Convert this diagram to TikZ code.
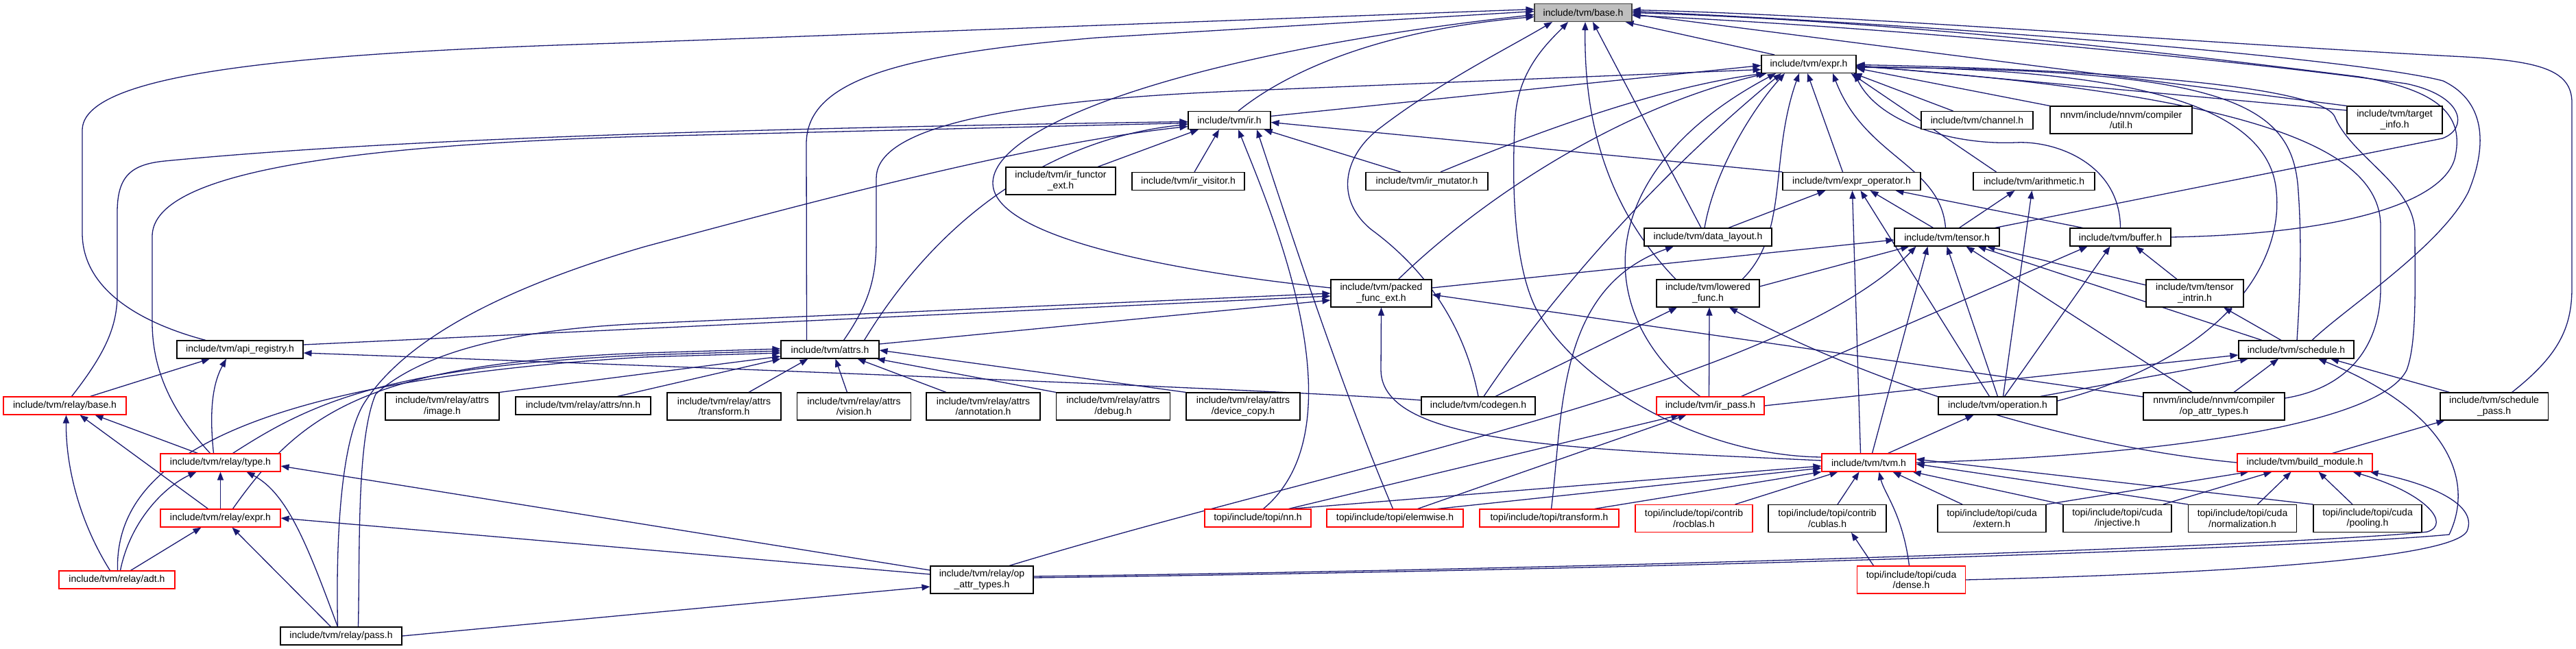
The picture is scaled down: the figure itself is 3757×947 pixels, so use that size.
\documentclass[tikz,border=0pt]{standalone}
\usepackage{fontspec}
\setmainfont{Liberation Sans}
\usetikzlibrary{arrows.meta,backgrounds}
\definecolor{edgeblue}{HTML}{191970}
\definecolor{rootfill}{HTML}{BFBFBF}
\definecolor{rootline}{HTML}{404040}
\definecolor{truncred}{HTML}{FF0000}
\tikzset{
  every node/.style={font=\fontsize{14}{15.5}\selectfont, text=black},
  hdr/.style={rectangle, draw=black, fill=white, line width=1.1pt,
    align=center, inner sep=1pt, minimum height=26pt},
  twoline/.style={minimum height=40pt},
  roothdr/.style={hdr, fill=rootfill, draw=rootline},
  cuthdr/.style={hdr, draw=truncred},
  inc/.style={draw=edgeblue, line width=1.3pt,
    -{Triangle[length=12pt,width=9pt]}},
}

\begin{document}
\begin{tikzpicture}[x=1pt,y=-1pt]
\useasboundingbox (0,0) rectangle (3757,947);

% ---- core headers ---------------------------------------------------------
\node[roothdr, minimum width=142pt] (base) at (2309,18.5) {include/tvm/base.h};
\node[hdr, minimum width=138pt] (expr) at (2638,93.5) {include/tvm/expr.h};

\node[hdr, minimum width=120pt] (ir) at (1793,175.5) {include/tvm/ir.h};
\node[hdr, minimum width=163pt] (channel) at (2883.5,175.5) {include/tvm/channel.h};
\node[hdr, twoline, minimum width=207pt] (nnutil) at (3093.5,175)
  {nnvm/include/nnvm/compiler\\/util.h};
\node[hdr, twoline, minimum width=139pt] (tinfo) at (3492.5,175)
  {include/tvm/target\\\_info.h};

\node[hdr, twoline, minimum width=160pt] (irfunctor) at (1547,264)
  {include/tvm/ir\_functor\\\_ext.h};
\node[hdr, minimum width=164pt] (irvisitor) at (1733,264.5) {include/tvm/ir\_visitor.h};
\node[hdr, minimum width=178pt] (irmutator) at (2081,264.5) {include/tvm/ir\_mutator.h};
\node[hdr, minimum width=201pt] (exprop) at (2700.5,264.5) {include/tvm/expr\_operator.h};
\node[hdr, minimum width=177pt] (arith) at (2966.5,264.5) {include/tvm/arithmetic.h};

\node[hdr, minimum width=186pt] (datalayout) at (2491,346) {include/tvm/data\_layout.h};
\node[hdr, minimum width=153pt] (tensor) at (2839.5,346) {include/tvm/tensor.h};
\node[hdr, minimum width=147pt] (buffer) at (3092.5,346) {include/tvm/buffer.h};

\node[hdr, twoline, minimum width=147pt] (packed) at (2014.5,428)
  {include/tvm/packed\\\_func\_ext.h};
\node[hdr, twoline, minimum width=150pt] (lowered) at (2491,428)
  {include/tvm/lowered\\\_func.h};
\node[hdr, twoline, minimum width=142pt] (tintrin) at (3201,428)
  {include/tvm/tensor\\\_intrin.h};

\node[hdr, minimum width=184pt] (apireg) at (350,510) {include/tvm/api\_registry.h};
\node[hdr, minimum width=143pt] (attrs) at (1210.5,510) {include/tvm/attrs.h};
\node[hdr, minimum width=168pt] (schedule) at (3349,510) {include/tvm/schedule.h};

% ---- relay attrs row ------------------------------------------------------
\def\aw{166pt}
\node[cuthdr, minimum width=179pt] (rbase) at (94.5,592) {include/tvm/relay/base.h};
\node[hdr, twoline, minimum width=\aw] (rimage) at (645,593)
  {include/tvm/relay/attrs\\/image.h};
\node[hdr, minimum width=197pt] (rnn) at (850.5,592) {include/tvm/relay/attrs/nn.h};
\node[hdr, twoline, minimum width=\aw] (rtransform) at (1056,593)
  {include/tvm/relay/attrs\\/transform.h};
\node[hdr, twoline, minimum width=\aw] (rvision) at (1245.5,593)
  {include/tvm/relay/attrs\\/vision.h};
\node[hdr, twoline, minimum width=\aw] (rannot) at (1434,593)
  {include/tvm/relay/attrs\\/annotation.h};
\node[hdr, twoline, minimum width=\aw] (rdebug) at (1623.5,593)
  {include/tvm/relay/attrs\\/debug.h};
\node[hdr, twoline, minimum width=\aw] (rdevcopy) at (1813,593)
  {include/tvm/relay/attrs\\/device\_copy.h};
\node[hdr, minimum width=166pt] (codegen) at (2156,592) {include/tvm/codegen.h};
\node[cuthdr, minimum width=157pt] (irpass) at (2494.5,592) {include/tvm/ir\_pass.h};
\node[hdr, minimum width=173pt] (operation) at (2913.5,592) {include/tvm/operation.h};
\node[hdr, twoline, minimum width=206pt] (nnopattr) at (3229,593)
  {nnvm/include/nnvm/compiler\\/op\_attr\_types.h};
\node[hdr, twoline, minimum width=157pt] (schedpass) at (3637.5,593)
  {include/tvm/schedule\\\_pass.h};

% ---- lower rows -----------------------------------------------------------
\node[cuthdr, minimum width=175pt] (rtype) at (321.5,675) {include/tvm/relay/type.h};
\node[cuthdr, minimum width=137pt] (tvm) at (2725.5,675) {include/tvm/tvm.h};
\node[cuthdr, minimum width=197pt] (buildmod) at (3361.5,675) {include/tvm/build\_module.h};

\def\cw{158pt}
\node[cuthdr, minimum width=175pt] (rexpr) at (321.5,756) {include/tvm/relay/expr.h};
\node[cuthdr, minimum width=155pt] (topinn) at (1834.5,756) {topi/include/topi/nn.h};
\node[cuthdr, minimum width=199pt] (topielem) at (2034.5,756) {topi/include/topi/elemwise.h};
\node[cuthdr, minimum width=203pt] (topitrans) at (2259.5,756) {topi/include/topi/transform.h};
\node[cuthdr, twoline, minimum width=171pt] (rocblas) at (2470.5,756.5)
  {topi/include/topi/contrib\\/rocblas.h};
\node[hdr, twoline, minimum width=172pt] (cublas) at (2665,756.5)
  {topi/include/topi/contrib\\/cublas.h};
\node[hdr, twoline, minimum width=\cw] (cextern) at (2905,756.5)
  {topi/include/topi/cuda\\/extern.h};
\node[hdr, twoline, minimum width=\cw] (cinj) at (3088,756.5)
  {topi/include/topi/cuda\\/injective.h};
\node[hdr, twoline, minimum width=\cw] (cnorm) at (3270.5,756.5)
  {topi/include/topi/cuda\\/normalization.h};
\node[hdr, twoline, minimum width=\cw] (cpool) at (3453,756.5)
  {topi/include/topi/cuda\\/pooling.h};

\node[cuthdr, minimum width=169pt] (radt) at (170.5,846) {include/tvm/relay/adt.h};
\node[hdr, twoline, minimum width=150pt] (ropattr) at (1432,846)
  {include/tvm/relay/op\\\_attr\_types.h};
\node[cuthdr, twoline, minimum width=\cw] (cdense) at (2787.5,846)
  {topi/include/topi/cuda\\/dense.h};

\node[hdr, minimum width=177pt] (rpass) at (497.5,928) {include/tvm/relay/pass.h};

\begin{scope}[on background layer]
% ---- into base.h ----------------------------------------------------------
\draw[inc] ([xshift=-50pt]expr.north) -- ([xshift=-10pt]base.south east);
\draw[inc] ([xshift=13pt]ir.north) .. controls (1870,110) and (2000,45) .. ([yshift=-6pt]base.west);
\draw[inc] ([xshift=-50pt]apireg.north) .. controls (200,470) and (120,420) .. (120,340)
  -- (120,190) .. controls (120,110) and (400,78) .. (900,63) -- ([yshift=5pt]base.west);
\draw[inc] ([xshift=-34pt]attrs.north) -- (1176,210) .. controls (1176,120) and (1300,80) .. (1600,55)
  -- ([yshift=2pt]base.west);
\draw[inc] ([yshift=8pt]packed.west) .. controls (1700,395) and (1450,345) .. (1448,268)
  .. controls (1446,180) and (1750,75) .. ([yshift=-3pt]base.west);
\draw[inc] (codegen.north) .. controls (2135,470) and (2075,390) .. (2000,335)
  .. controls (1945,290) and (1960,225) .. (2015,185)
  .. controls (2100,120) and (2200,70) .. ([xshift=-45pt]base.south);
\draw[inc] ([yshift=8pt]tvm.west) .. controls (2480,665) and (2300,560) .. (2240,450)
  .. controls (2205,380) and (2205,250) .. (2210,170)
  .. controls (2215,100) and (2260,60) .. ([xshift=-22pt]base.south);
\draw[inc] ([xshift=-47pt]lowered.north) .. controls (2340,300) and (2310,170) .. ([xshift=3pt]base.south);
\draw[inc] ([xshift=-10pt]datalayout.north) -- ([xshift=14pt]base.south);
\draw[inc] (tinfo.north west) -- ([yshift=-2pt]base.east);
\draw[inc] ([xshift=26pt]schedpass.north) .. controls (3730,520) and (3751,480) .. (3751,420)
  -- (3751,150) .. controls (3751,100) and (3700,88) .. (3576,82)
  .. controls (3200,62) and (2700,22) .. ([yshift=4pt]base.east);
\draw[inc] ([xshift=23pt]schedule.north) .. controls (3420,450) and (3560,360) .. (3600,280)
  .. controls (3625,220) and (3630,150) .. (3563,118)
  .. controls (3450,88) and (2900,40) .. ([yshift=2pt]base.east);
\draw[inc] (buffer.east) .. controls (3400,342) and (3560,300) .. (3580,232)
  .. controls (3595,170) and (3560,132) .. (3441,112)
  .. controls (3200,82) and (2800,32) .. (base.east);
\draw[inc] ([xshift=70pt]tensor.north) -- (3562,202) .. controls (3600,188) and (3595,140) .. (3509,122)
  .. controls (3300,92) and (2800,42) .. ([yshift=-4pt]base.east);

% ---- into expr.h ----------------------------------------------------------
\draw[inc] ([yshift=6pt]ir.east) -- ([yshift=-2pt]expr.west);
\draw[inc] ([xshift=-35pt]channel.north) -- ([xshift=-4pt]expr.south east);
\draw[inc] (nnutil.north west) -- ([yshift=-6pt]expr.east);
\draw[inc] ([yshift=14pt]tinfo.west) -- ([yshift=-2pt]expr.east);
\draw[inc] ([xshift=20pt]irmutator.north) .. controls (2200,210) and (2400,130) .. ([xshift=5pt]expr.south west);
\draw[inc] ([xshift=-13pt]exprop.north) -- ([xshift=-2pt]expr.south);
\draw[inc] ([xshift=-55pt]arith.north) -- ([xshift=-8pt]expr.south east);
\draw[inc] ([xshift=-5pt]datalayout.north) .. controls (2500,250) and (2555,160) .. ([xshift=-35pt]expr.south);
\draw[inc] ([xshift=-2pt]tensor.north) .. controls (2830,240) and (2720,230) .. ([xshift=35pt]expr.south);
\draw[inc] (buffer.north) .. controls (3092,240) and (3000,205) .. (2940,208)
  .. controls (2850,212) and (2740,180) .. ([xshift=-3pt]expr.south east);
\draw[inc] ([xshift=25pt]packed.north) .. controls (2150,300) and (2350,160) .. ([xshift=8pt]expr.south west);
\draw[inc] ([xshift=50pt]lowered.north) .. controls (2610,340) and (2580,230) .. ([xshift=-14pt]expr.south);
\draw[inc] ([xshift=20pt]attrs.north) .. controls (1270,440) and (1278,400) .. (1278,350)
  -- (1278,260) .. controls (1278,200) and (1400,150) .. (1800,133) -- ([yshift=-8pt]expr.west);
\draw[inc] ([xshift=8pt]codegen.north) .. controls (2250,450) and (2400,270) .. ([xshift=-40pt]expr.south);
\draw[inc] ([xshift=-15pt]irpass.north) .. controls (2320,460) and (2320,250) .. ([xshift=-48pt]expr.south);
\draw[inc] ([yshift=7pt]operation.east) .. controls (3250,520) and (3330,380) .. (3320,280)
  .. controls (3310,150) and (3100,100) .. ([yshift=-4pt]expr.east);
\draw[inc] ([xshift=1pt]schedule.north) .. controls (3355,420) and (3357,350) .. (3352,280)
  .. controls (3345,150) and (3250,100) .. ([yshift=-5pt]expr.east);
\draw[inc] ([yshift=12pt]nnopattr.east) .. controls (3430,565) and (3472,500) .. (3472,420)
  -- (3472,330) .. controls (3472,220) and (3300,140) .. ([yshift=-3pt]expr.east);
\draw[inc] (tvm.east) .. controls (3150,665) and (3470,620) .. (3510,540)
  .. controls (3525,500) and (3522,420) .. (3522,340)
  .. controls (3522,270) and (3430,230) .. (3405,170)
  .. controls (3380,120) and (3000,100) .. ([yshift=-1pt]expr.east);

% ---- into ir.h ------------------------------------------------------------
\draw[inc] ([xshift=54pt]irfunctor.north) -- ([xshift=-45pt]ir.south);
\draw[inc] ([xshift=9pt]irvisitor.north) -- ([xshift=-15pt]ir.south);
\draw[inc] ([xshift=-38pt]irmutator.north) -- ([xshift=-10pt]ir.south east);
\draw[inc] (exprop.north west) -- ([yshift=-3pt]ir.east);
\draw[inc] ([xshift=50pt]attrs.north) .. controls (1380,300) and (1550,200) .. ([yshift=-6pt]ir.west);
\draw[inc] ([xshift=10pt]rbase.north) .. controls (150,520) and (171,480) .. (171,430)
  -- (171,310) .. controls (171,258) and (190,240) .. (240,235)
  .. controls (500,210) and (900,190) .. ([yshift=-2pt]ir.west);
\draw[inc] ([xshift=-15pt]rtype.north) .. controls (250,600) and (222,540) .. (222,470)
  -- (222,345) .. controls (222,270) and (400,215) .. (940,199) -- ([yshift=-4pt]ir.west);
\draw[inc] ([xshift=-5pt]rpass.north) .. controls (490,800) and (495,650) .. (530,590)
  .. controls (580,510) and (700,430) .. (940,360)
  .. controls (1200,290) and (1500,210) .. ([yshift=-9pt]ir.west);
\draw[inc] ([xshift=8pt]topinn.north) .. controls (1990,620) and (1850,300) .. ([xshift=13pt]ir.south);
\draw[inc] ([xshift=-3pt]topielem.north) .. controls (1950,550) and (1870,300) .. ([xshift=40pt]ir.south);

% ---- expr_operator.h, arithmetic.h ----------------------------------------
\draw[inc] ([xshift=30pt]datalayout.north) -- ([xshift=-38pt]exprop.south);
\draw[inc] ([xshift=-20pt]tensor.north) -- ([xshift=27pt]exprop.south);
\draw[inc] ([xshift=-55pt]buffer.north) -- ([xshift=64pt]exprop.south);
\draw[inc] ([xshift=-12pt]operation.north) -- ([xshift=13pt]exprop.south);
\draw[inc] ([xshift=-12pt]tvm.north) -- ([xshift=1pt]exprop.south);
\draw[inc] ([xshift=18pt]tensor.north) -- ([xshift=-28pt]arith.south);
\draw[inc] ([xshift=8pt]operation.north) -- ([xshift=-3pt]arith.south);

% ---- tensor.h, buffer.h ---------------------------------------------------
\draw[inc] ([yshift=8pt]packed.east) -- ([yshift=-4pt]tensor.west);
\draw[inc] ([yshift=10pt]lowered.east) -- ([xshift=-55pt]tensor.south);
\draw[inc] ([yshift=12pt]tintrin.west) -- ([xshift=58pt]tensor.south);
\draw[inc] ([xshift=-50pt]schedule.north) -- ([xshift=45pt]tensor.south);
\draw[inc] ([xshift=-32pt]nnopattr.north) -- ([xshift=28pt]tensor.south);
\draw[inc] (operation.north) -- (tensor.south);
\draw[inc] ([xshift=5pt]tvm.north) -- ([xshift=-28pt]tensor.south);
\draw[inc] ([xshift=40pt]ropattr.north) .. controls (1950,680) and (2600,560) .. ([xshift=-45pt]tensor.south);
\draw[inc] ([xshift=45pt]irpass.north) -- ([xshift=-48pt]buffer.south);
\draw[inc] ([xshift=10pt]operation.north) -- ([xshift=-15pt]buffer.south);
\draw[inc] ([xshift=-26pt]tintrin.north) -- ([xshift=22pt]buffer.south);

% ---- lowered_func.h, data_layout.h, packed_func_ext.h ---------------------
\draw[inc] ([xshift=25pt]codegen.north) -- ([xshift=-45pt]lowered.south);
\draw[inc] ([xshift=-2pt]irpass.north) -- ([xshift=2pt]lowered.south);
\draw[inc] (buildmod.west) .. controls (2950,645) and (2650,520) .. ([xshift=31pt]lowered.south);
\draw[inc] ([xshift=3pt]topitrans.north) .. controls (2280,600) and (2270,420) .. ([xshift=-50pt]datalayout.south);
\draw[inc] ([yshift=7pt]apireg.east) -- ([yshift=-4pt]packed.west);
\draw[inc] ([yshift=8pt]attrs.east) -- ([yshift=-10pt]packed.west);
\draw[inc] ([xshift=25pt]rpass.north) .. controls (525,800) and (520,640) .. (548,575)
  .. controls (620,510) and (760,480) .. (940,472) -- (packed.west);
\draw[inc] ([yshift=3pt]tvm.west) .. controls (2300,655) and (2015,650) .. (2014,540) -- (packed.south);
\draw[inc] ([yshift=14pt]nnopattr.west) -- ([yshift=-2pt]packed.east);

% ---- api_registry.h, attrs.h ----------------------------------------------
\draw[inc] ([xshift=37pt]rbase.north) -- ([xshift=-44pt]apireg.south);
\draw[inc] ([xshift=-10pt]rtype.north) .. controls (305,600) and (310,560) .. ([xshift=-20pt]apireg.south);
\draw[inc] ([yshift=8pt]codegen.west) .. controls (1900,570) and (1000,535) .. ([yshift=-5pt]apireg.east);
\draw[inc] (rimage.north east) -- ([yshift=-10pt]attrs.west);
\draw[inc] ([xshift=50pt]rnn.north) -- (attrs.south west);
\draw[inc] ([xshift=36pt]rtransform.north) -- ([xshift=-32pt]attrs.south);
\draw[inc] ([xshift=-10pt]rvision.north) -- ([xshift=8pt]attrs.south);
\draw[inc] ([xshift=-54pt]rannot.north) -- ([xshift=40pt]attrs.south);
\draw[inc] (rdebug.north west) -- ([xshift=-4pt]attrs.south east);
\draw[inc] (rdevcopy.north west) -- ([yshift=-1pt]attrs.east);
\draw[inc] ([xshift=18pt]rtype.north) .. controls (450,590) and (560,535) .. (940,518) -- ([yshift=-2pt]attrs.west);
\draw[inc] ([xshift=18pt]rexpr.north) .. controls (440,600) and (540,530) .. (940,515) -- ([yshift=1pt]attrs.west);
\draw[inc] ([xshift=1pt]radt.north) .. controls (168,700) and (290,560) .. (940,521) -- ([yshift=-5pt]attrs.west);

% ---- relay ----------------------------------------------------------------
\draw[inc] ([xshift=-33pt]rtype.north) -- ([xshift=44pt]rbase.south);
\draw[inc] ([xshift=-18pt]rexpr.north) -- ([xshift=22pt]rbase.south);
\draw[inc] (rexpr.north) -- (rtype.south);
\draw[inc] ([xshift=-10pt]radt.north) .. controls (115,760) and (96,680) .. ([xshift=2pt]rbase.south);
\draw[inc] ([xshift=5pt]radt.north) .. controls (190,760) and (240,710) .. ([xshift=-35pt]rtype.south);
\draw[inc] ([xshift=20pt]radt.north) -- ([xshift=-28pt]rexpr.south);
\draw[inc] ([xshift=-15pt]rpass.north) -- ([xshift=17pt]rexpr.south);
\draw[inc] ([xshift=-5pt]rpass.north) .. controls (450,800) and (420,720) .. ([xshift=38pt]rtype.south);
\draw[inc] (rpass.east) -- ([yshift=-10pt]ropattr.west);
\draw[inc] ([yshift=14pt]ropattr.west) -- ([yshift=-5pt]rtype.east);
\draw[inc] ([yshift=8pt]ropattr.west) -- (rexpr.east);
\draw[inc] ([yshift=5pt]ropattr.east) .. controls (2500,828) and (3400,792) .. (3540,776)
  .. controls (3575,765) and (3540,720) .. ([xshift=70pt]buildmod.south);
\draw[inc] ([yshift=3pt]ropattr.east) .. controls (2500,830) and (3400,797) .. (3572,780)
  .. controls (3610,700) and (3570,600) .. ([xshift=32pt]schedule.south);

% ---- build_module.h, tvm.h, topi ------------------------------------------
\draw[inc] (cdense.east) .. controls (3200,838) and (3575,818) .. (3598,775)
  .. controls (3615,735) and (3540,705) .. ([xshift=95pt]buildmod.south);
\draw[inc] ([xshift=40pt]buildmod.north) -- ([xshift=-72pt]schedpass.south);
\draw[inc] (cextern.north east) -- ([xshift=-82pt]buildmod.south);
\draw[inc] ([xshift=67pt]cinj.north) -- ([xshift=-48pt]buildmod.south);
\draw[inc] ([xshift=22pt]cnorm.north) -- ([xshift=-20pt]buildmod.south);
\draw[inc] ([xshift=-22pt]cpool.north) -- ([xshift=20pt]buildmod.south);
\draw[inc] ([xshift=-43pt]cextern.north) -- ([xshift=35pt]tvm.south);
\draw[inc] (cinj.north west) -- ([xshift=-5pt]tvm.south east);
\draw[inc] (cnorm.north west) -- ([yshift=-2pt]tvm.east);
\draw[inc] (cpool.north west) -- ([yshift=5pt]tvm.east);
\draw[inc] ([xshift=15pt]cublas.north) -- ([xshift=-14pt]tvm.south);
\draw[inc] ([xshift=60pt]rocblas.north) -- ([xshift=-45pt]tvm.south);
\draw[inc] ([xshift=48pt]topinn.north) -- ([yshift=-5pt]tvm.west);
\draw[inc] ([xshift=62pt]topielem.north) -- ([yshift=-8pt]tvm.west);
\draw[inc] ([xshift=66pt]topitrans.north) -- (tvm.south west);
\draw[inc] ([xshift=-55pt]cdense.north) -- ([xshift=35pt]cublas.south);
\draw[inc] ([xshift=-3pt]cdense.north) .. controls (2775,750) and (2748,720) .. ([xshift=15pt]tvm.south);
\draw[inc] ([xshift=45pt]topinn.north) -- ([xshift=-45pt]irpass.south);
\draw[inc] ([xshift=33pt]topielem.north) -- ([xshift=-35pt]irpass.south);
\draw[inc] (irpass.east) -- ([yshift=-8pt]schedule.west);
\draw[inc] ([xshift=28pt]tvm.north) -- ([xshift=-35pt]operation.south);

% ---- schedule.h -----------------------------------------------------------
\draw[inc] ([xshift=62pt]operation.north) -- ([xshift=-70pt]schedule.south);
\draw[inc] ([xshift=29pt]nnopattr.north) -- ([xshift=-26pt]schedule.south);
\draw[inc] ([xshift=-65pt]schedpass.north) -- ([xshift=50pt]schedule.south);
\draw[inc] ([xshift=-22pt]schedule.north) -- ([xshift=42pt]tintrin.south);
\end{scope}

\end{tikzpicture}
\end{document}
